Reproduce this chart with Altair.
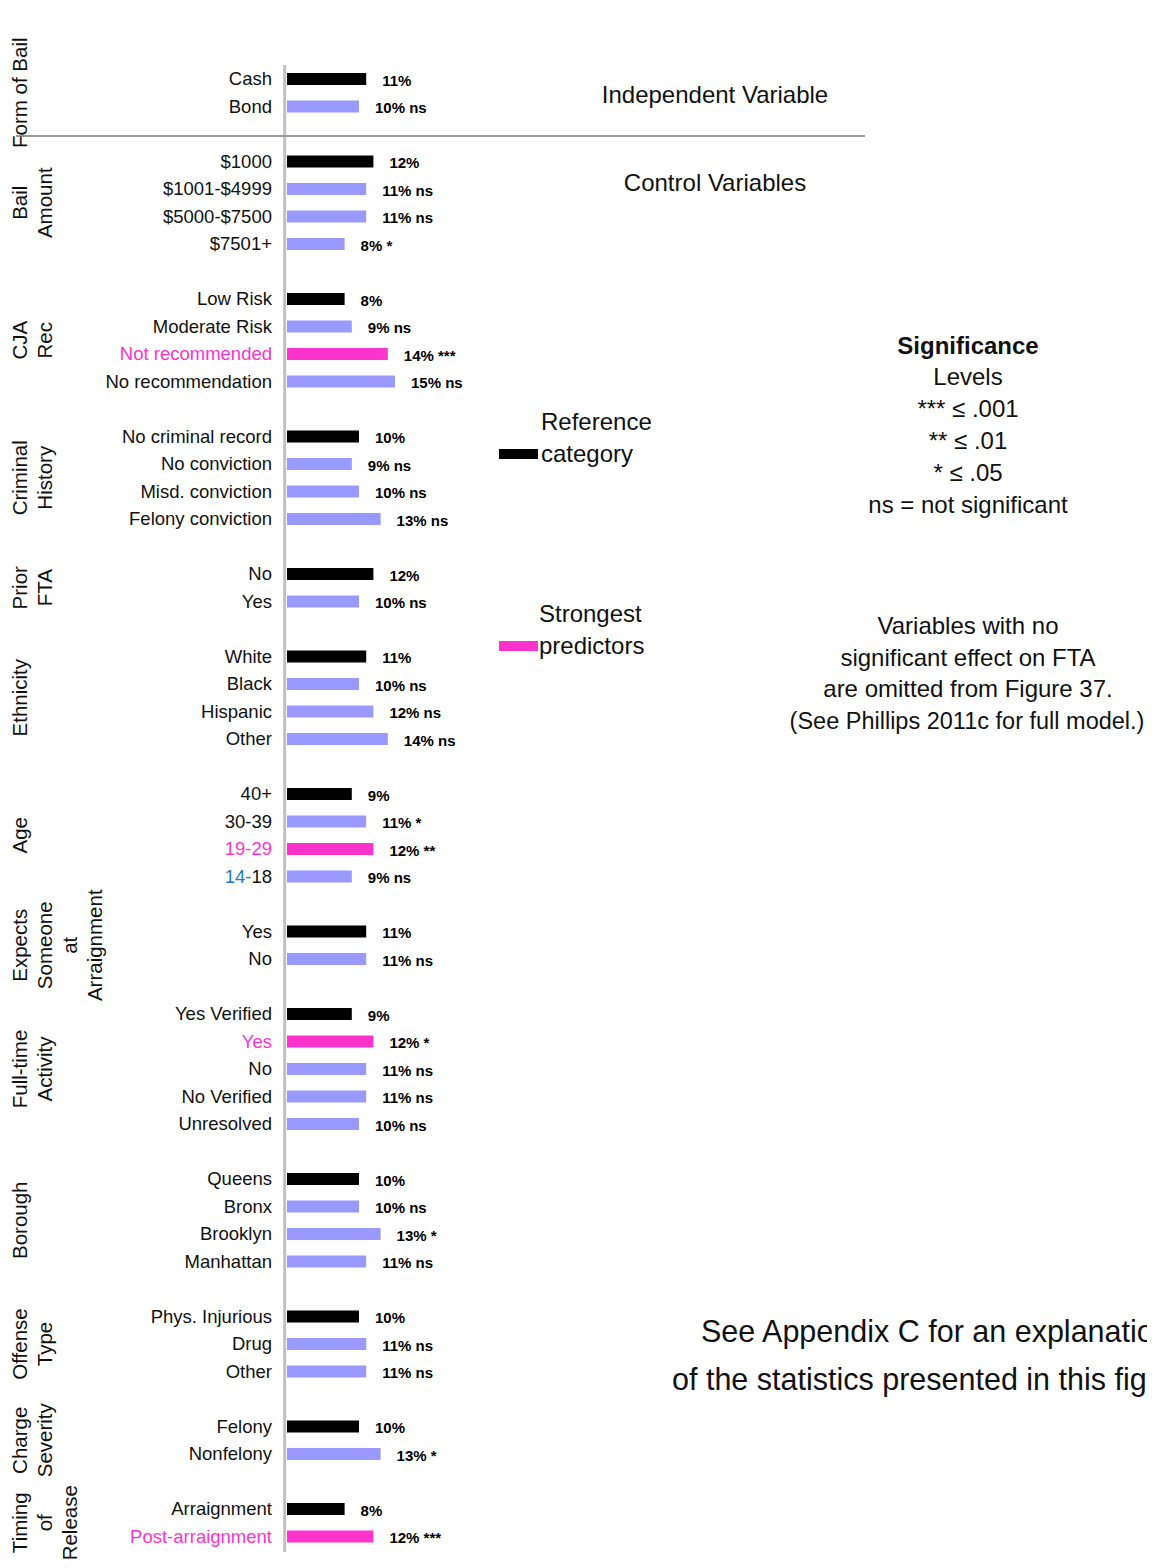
import altair as alt
import pandas as pd

# ---------------- data ----------------
group_titles = ["Form of Bail", "Bail\nAmount", "CJA\nRec", "Criminal\nHistory", "Prior\nFTA",
                "Ethnicity", "Age", "Expects\nSomeone\nat\nArraignment", "Full-time\nActivity",
                "Borough", "Offense\nType", "Charge\nSeverity", "Timing\nof\nRelease"]

group_labels = [
    ["Cash", "Bond"],
    ["$1000", "$1001-$4999", "$5000-$7500", "$7501+"],
    ["Low Risk", "Moderate Risk", "Not recommended", "No recommendation"],
    ["No criminal record", "No conviction", "Misd. conviction", "Felony conviction"],
    ["No", "Yes"],
    ["White", "Black", "Hispanic", "Other"],
    ["40+", "30-39", "19-29", "14-18"],
    ["Yes", "No"],
    ["Yes Verified", "Yes", "No", "No Verified", "Unresolved"],
    ["Queens", "Bronx", "Brooklyn", "Manhattan"],
    ["Phys. Injurious", "Drug", "Other"],
    ["Felony", "Nonfelony"],
    ["Arraignment", "Post-arraignment"],
]

group_values = [
    [11, 10],
    [12, 11, 11, 8],
    [8, 9, 14, 15],
    [10, 9, 10, 13],
    [12, 10],
    [11, 10, 12, 14],
    [9, 11, 12, 9],
    [11, 11],
    [9, 12, 11, 11, 10],
    [10, 10, 13, 11],
    [10, 11, 11],
    [10, 13],
    [8, 12],
]

group_sig = [
    ["", "ns"],
    ["", "ns", "ns", "*"],
    ["", "ns", "***", "ns"],
    ["", "ns", "ns", "ns"],
    ["", "ns"],
    ["", "ns", "ns", "ns"],
    ["", "*", "**", "ns"],
    ["", "ns"],
    ["", "*", "ns", "ns", "ns"],
    ["", "ns", "*", "ns"],
    ["", "ns", "ns"],
    ["", "*"],
    ["", "***"],
]

# ref = reference category, cmp = comparison, top = strongest predictor
group_kinds = [
    ["ref", "cmp"],
    ["ref", "cmp", "cmp", "cmp"],
    ["ref", "cmp", "top", "cmp"],
    ["ref", "cmp", "cmp", "cmp"],
    ["ref", "cmp"],
    ["ref", "cmp", "cmp", "cmp"],
    ["ref", "cmp", "top", "cmp"],
    ["ref", "cmp"],
    ["ref", "top", "cmp", "cmp", "cmp"],
    ["ref", "cmp", "cmp", "cmp"],
    ["ref", "cmp", "cmp"],
    ["ref", "cmp"],
    ["ref", "top"],
]

# label whose leading part is printed in another colour
split_labels = {"14-18": ("14-", "18", "#1F77C8")}

kind_domain = ["ref", "cmp", "top"]
kind_colors = ["#000000", "#9999FF", "#FF33CC"]

# ---------------- build tables ----------------
rows, titles, prefixes = [], [], []
r = 0
for gi, title in enumerate(group_titles):
    start = r
    for lab, val, sig, kind in zip(group_labels[gi], group_values[gi], group_sig[gi], group_kinds[gi]):
        main = lab
        if lab in split_labels:
            pre, main, pcol = split_labels[lab]
            prefixes.append({"row": r, "pre": pre, "pcol": pcol})
        rows.append({"row": r, "label": main, "value": val, "zero": 0, "kind": kind,
                     "vlabel": f"{val}%" + (f" {sig}" if sig else "")})
        r += 1
    titles.append({"row": (start + r - 1) / 2, "title": title})
    r += 1

df = pd.DataFrame(rows)
tdf = pd.DataFrame(titles)
pdf = pd.DataFrame(prefixes)

# ---------------- layout ----------------
W, H = 1139, 1552
X0, PX_PER = 279.0, 7.2          # bar origin and pixels per percentage point
Y0, STEP = 71.0, 27.5            # first row centre and row step
xs = alt.Scale(domain=[-X0 / PX_PER, (W - X0) / PX_PER], nice=False, zero=False, padding=0)
ys = alt.Scale(domain=[-Y0 / STEP, (H - Y0) / STEP], nice=False, zero=False, reverse=True,
               padding=0)
FONT = "Liberation Sans"
LAB_SIZE = 18.5
NOTE_SIZE = 24

def Y(f="row"):
    return alt.Y(f, type="quantitative", scale=ys, axis=None)

def X(f):
    return alt.X(f, type="quantitative", scale=xs, axis=None)

base = alt.Chart(df)

bars = base.mark_bar(orient="horizontal", size=12).encode(
    x=X("zero"), x2="value:Q", y=Y(),
    color=alt.Color("kind:N", scale=alt.Scale(domain=kind_domain, range=kind_colors), legend=None),
)

values = base.mark_text(align="left", baseline="middle", dx=16, dy=1.5, font=FONT,
                        fontSize=15, fontWeight="bold", color="#000").encode(
    x=X("value"), y=Y(), text="vlabel:N")

labels = base.mark_text(align="right", baseline="middle", font=FONT, fontSize=LAB_SIZE).encode(
    x=alt.value(264), y=Y(), text="label:N",
    color=alt.condition(alt.datum.kind == "top", alt.value("#FF33CC"), alt.value("#111111")))

pre_labels = alt.Chart(pdf).mark_text(align="right", baseline="middle", font=FONT, fontSize=LAB_SIZE,
                                      dx=-2 * 0.556 * LAB_SIZE).encode(
    x=alt.value(264), y=Y(), text="pre:N", color=alt.Color("pcol:N", scale=None))

group_text = alt.Chart(tdf).mark_text(angle=270, align="center", baseline="top", font=FONT,
                                      fontSize=20.5, lineHeight=25, lineBreak="\n",
                                      color="#111111").encode(
    x=alt.value(3), y=Y(), text="title:N")

one = pd.DataFrame({"a": [0]})

vline = alt.Chart(one).mark_rule(color="#c0c0c0", strokeWidth=3).encode(
    x=alt.value(276.7), y=alt.value(57), y2=alt.value(1544))
hline = alt.Chart(one).mark_rule(color="#9a9a9a", strokeWidth=2).encode(
    x=alt.value(8), x2=alt.value(857), y=alt.value(128))
leg_ref = alt.Chart(one).mark_rule(color="#000000", strokeWidth=10).encode(
    x=alt.value(491), x2=alt.value(530), y=alt.value(446))
leg_top = alt.Chart(one).mark_rule(color="#FF33CC", strokeWidth=10).encode(
    x=alt.value(491), x2=alt.value(530), y=alt.value(638))

def note(txt, x, y, size=NOTE_SIZE, align="center", bold=False):
    return alt.Chart(one).mark_text(align=align, baseline="middle", font=FONT, fontSize=size,
                                    fontWeight="bold" if bold else "normal",
                                    color="#111111").encode(
        x=alt.value(x), y=alt.value(y), text=alt.value(txt))

notes = [
    note("Independent Variable", 707, 88),
    note("Control Variables", 707, 176),
    note("Significance", 960, 339, bold=True),
    note("Levels", 960, 370),
    note("*** \u2264 .001", 960, 402),
    note("** \u2264 .01", 960, 434),
    note("* \u2264 .05", 960, 466),
    note("ns = not significant", 960, 498),
    note("Reference", 533, 415, align="left"),
    note("category", 533, 447, align="left"),
    note("Strongest", 531, 607, align="left"),
    note("predictors", 531, 639, align="left"),
    note("Variables with no", 960, 619),
    note("significant effect on FTA", 960, 651),
    note("are omitted from Figure 37.", 960, 682),
    note("(See Phillips 2011c for full model.)", 959, 714, size=23.5),
    note("See Appendix C for an explanation", 693, 1325, size=30.5, align="left"),
    note("of the statistics presented in this figure.", 664, 1373, size=30.5, align="left"),
]

chart = alt.layer(vline, hline, bars, values, labels, pre_labels, group_text, leg_ref, leg_top,
                  *notes).properties(
    width=W, height=H, autosize=alt.AutoSizeParams(type="none"), padding=0,
).configure_view(stroke=None)

chart.save("out.html", embed_options={"renderer": "svg", "actions": False})
